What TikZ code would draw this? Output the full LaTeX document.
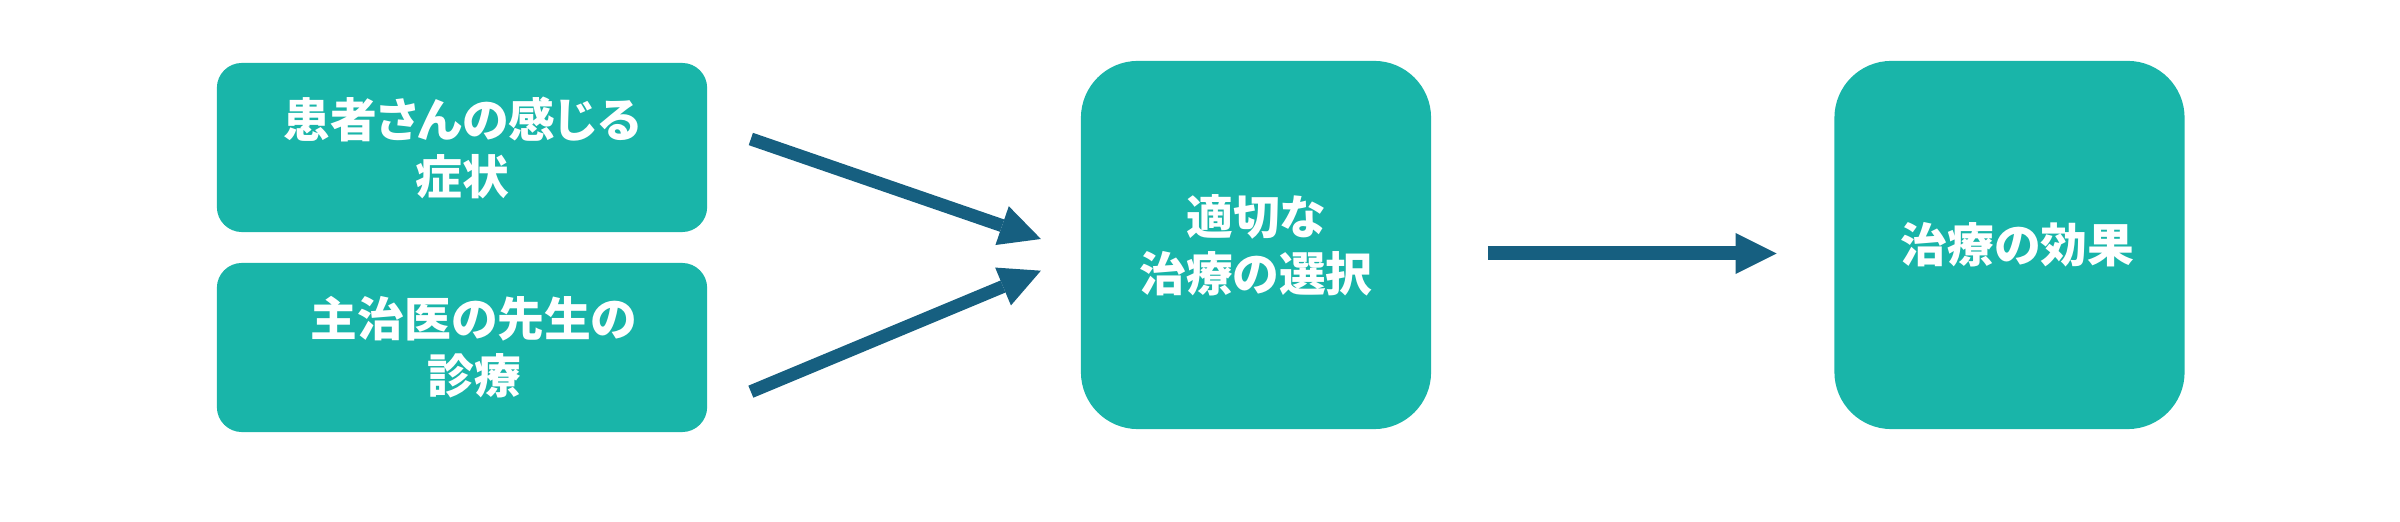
\documentclass[tikz,border=0pt]{standalone}
\usepackage{fontspec}
\newfontfamily\jpfont{Noto Sans CJK JP}[RawFeature=+palt]
\usepackage{xcolor}
\usetikzlibrary{arrows.meta, positioning}
\definecolor{boxteal}{RGB}{25,181,169}
\definecolor{arrowblue}{RGB}{22,95,128}

\begin{document}
\begin{tikzpicture}[x=0.01cm,y=-0.01cm,
  box/.style={fill=boxteal, rounded corners=0.25cm, minimum width=4.9cm, minimum height=1.69cm, inner sep=0pt, align=center, text=white, font=\jpfont\bfseries\fontsize{13.3pt}{16.2pt}\selectfont},
  bigbox/.style={box, rounded corners=0.57cm, minimum width=3.5cm, minimum height=3.68cm},
  flow/.style={draw=arrowblue, line width=0.13cm, -{Triangle[length=0.41cm, width=0.41cm, line width=0pt]}}]
\useasboundingbox (0,0) rectangle (2400,522);
    \node[box] (symptom) at (462,147.5) {患者さんの感じる\\症状};
    \node[box] (exam) at (462,347.5) {\hspace*{0.24cm}主治医の先生の\\\hspace*{0.24cm}診療};
    \node[bigbox] (choice) at (1256,245) {適切な\\治療の選択};
    \node[bigbox] (effect) at (2009.5,245) {\hspace*{0.16cm}治療の効果};
    % free ends of the arrows
    \coordinate (s1) at ([shift={(43,-8.5)}]symptom.east);
    \coordinate (t1) at ([shift={(-39.3,-6)}]choice.west);
    \coordinate (s2) at ([shift={(43,44.2)}]exam.east);
    \coordinate (t2) at ([shift={(-39.3,25.7)}]choice.west);
    \coordinate (s3) at ([shift={(56,8.5)}]choice.east);
    \coordinate (t3) at ([shift={(-57,8.5)}]effect.west);
    \draw[flow] (s1) -- (t1);
    \draw[flow] (s2) -- (t2);
    \draw[flow, line width=0.14cm] (s3) -- (t3);
\end{tikzpicture}
\end{document}
